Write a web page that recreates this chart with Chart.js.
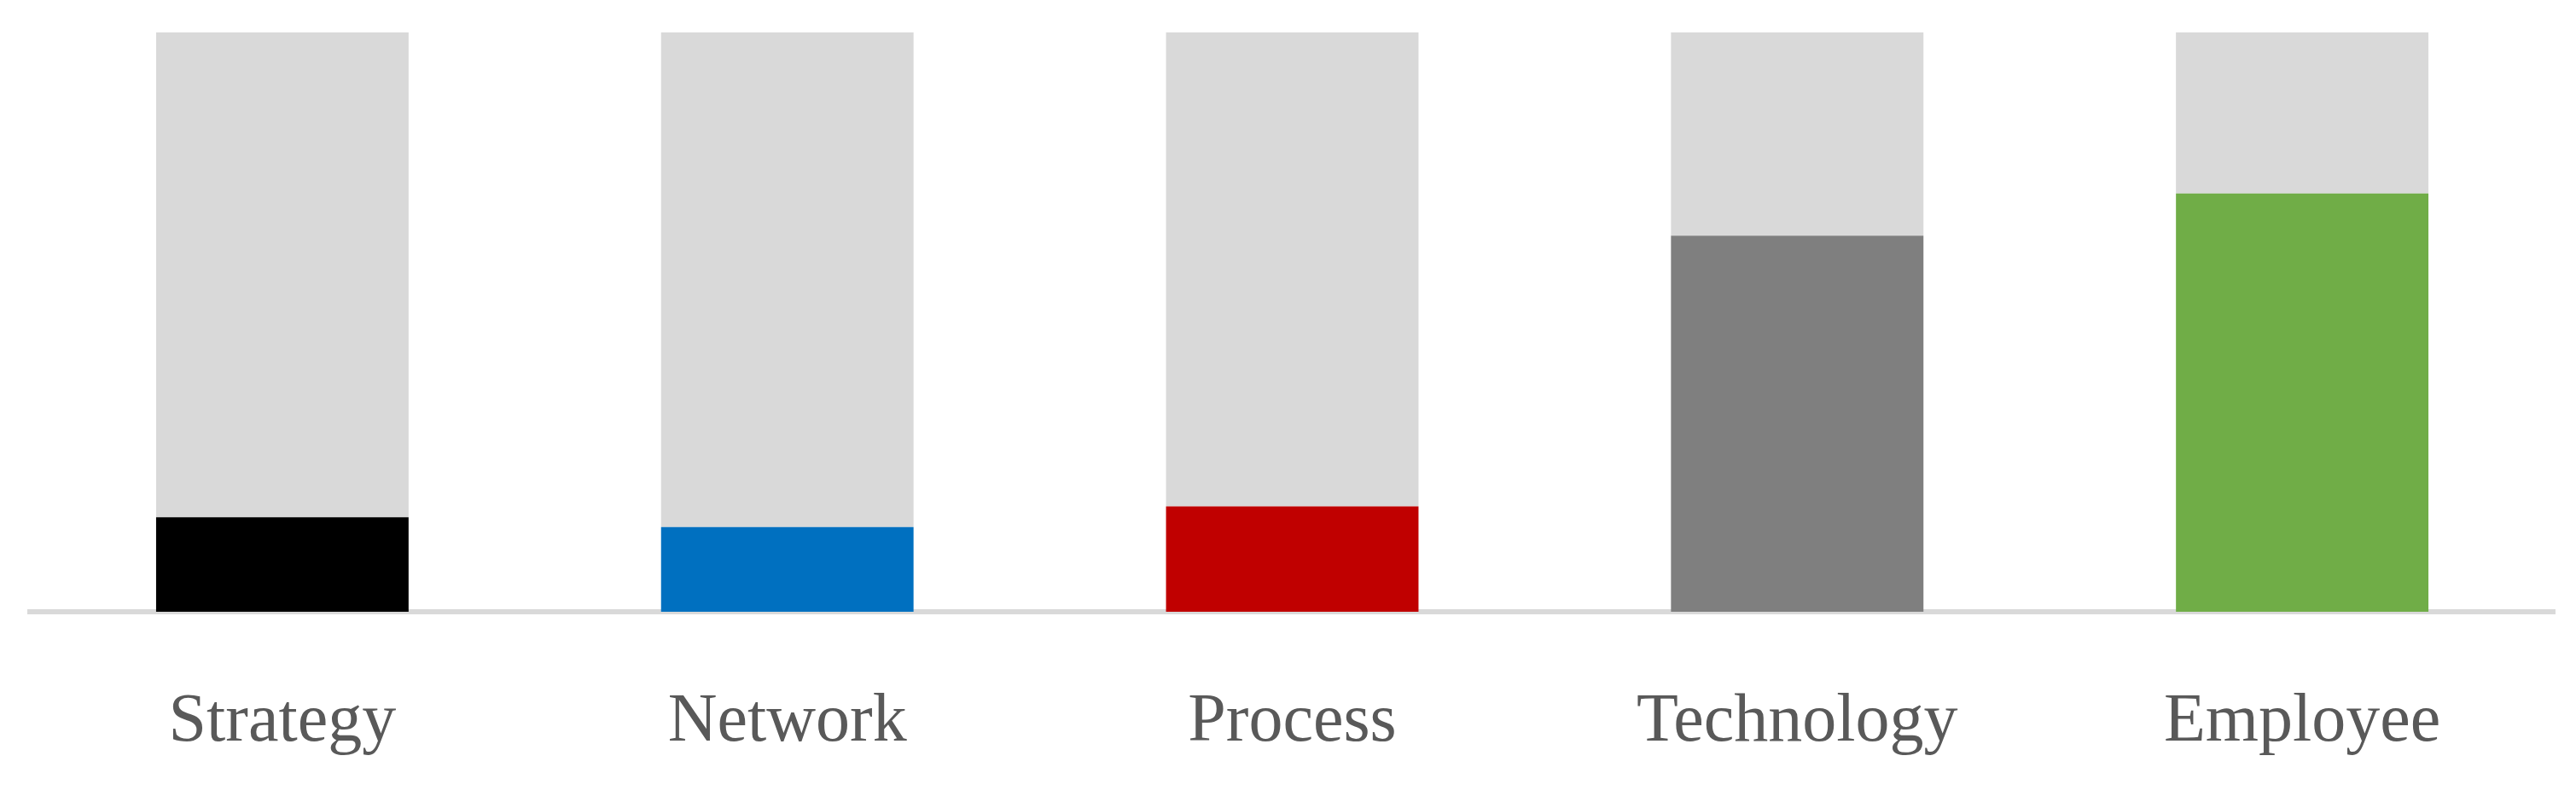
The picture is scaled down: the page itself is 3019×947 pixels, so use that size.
<!DOCTYPE html>
<html>
<head>
<meta charset="utf-8">
<script src="https://cdn.jsdelivr.net/npm/chart.js@4"></script>
<style>
  html, body { margin: 0; padding: 0; background: #fff; }
  #wrap { width: 3019px; height: 947px; }
</style>
</head>
<body>
<div id="wrap"><canvas id="c"></canvas></div>
<script>
const categories = ['Strategy', 'Network', 'Process', 'Technology', 'Employee'];
const scores = [0.163, 0.146, 0.182, 0.649, 0.722];
const barColors = ['#000000', '#0070c0', '#c00000', '#7f7f7f', '#70ad47'];
const remainder = scores.map(v => 1 - v);

new Chart(document.getElementById('c'), {
    type: 'bar',
    data: {
        labels: categories,
        datasets: [
            { data: scores, backgroundColor: barColors, categoryPercentage: 1, barPercentage: 0.5 },
            { data: remainder, backgroundColor: '#d9d9d9', categoryPercentage: 1, barPercentage: 0.5 }
        ]
    },
    options: {
        responsive: true,
        maintainAspectRatio: false,
        animation: false,
        layout: { padding: { left: 35, right: 25, top: 38, bottom: -30 } },
        plugins: { legend: { display: false }, tooltip: { enabled: false } },
        scales: {
            x: {
                stacked: true,
                grid: { display: false, drawTicks: false },
                border: { color: '#d9d9d9', width: 6 },
                ticks: { color: '#595959', padding: 82, font: { family: 'Liberation Serif', size: 80 } }
            },
            y: { stacked: true, display: false, min: 0, max: 1 }
        }
    }
});
</script>
</body>
</html>
